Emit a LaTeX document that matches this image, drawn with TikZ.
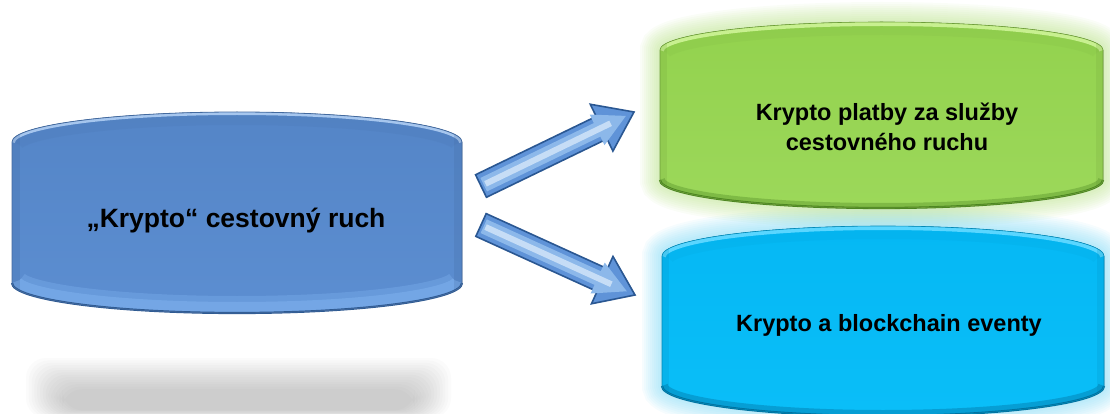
\documentclass[tikz,border=0pt]{standalone}
\usepackage{fontspec}
\setmainfont{Liberation Sans}
\usetikzlibrary{calc}
\definecolor{blueA}{HTML}{5485C7}
\definecolor{blueB}{HTML}{5C8ED1}
\definecolor{blueLight}{HTML}{80B3F0}
\definecolor{blueRim}{HTML}{A6C6EE}
\definecolor{blueDark}{HTML}{2C5890}
\definecolor{greenA}{HTML}{93D24E}
\definecolor{greenB}{HTML}{9CD85A}
\definecolor{greenRim}{HTML}{C8F090}
\definecolor{greenDark}{HTML}{4A8420}
\definecolor{greenGlow}{HTML}{A2D862}
\definecolor{cyanA}{HTML}{05B8F4}
\definecolor{cyanB}{HTML}{0ABEF8}
\definecolor{cyanRim}{HTML}{5AD6FF}
\definecolor{cyanDark}{HTML}{00709E}
\definecolor{cyanGlow}{HTML}{55CCF2}
\definecolor{arrFill}{HTML}{5F93D8}
\definecolor{arrMid}{HTML}{8CB8EA}
\definecolor{arrHi}{HTML}{C6DDF6}
\definecolor{arrDark}{HTML}{2A5792}
% drum-shaped path: left, right, top corner y, bottom corner y, y radius
\def\drum#1#2#3#4#5{(#1,#3) .. controls (#1,{#3-0.5523*#5}) and ({(#1+#2)/2-0.5523*(#2-#1)/2},{#3-#5}) .. ({(#1+#2)/2},{#3-#5}) .. controls ({(#1+#2)/2+0.5523*(#2-#1)/2},{#3-#5}) and (#2,{#3-0.5523*#5}) .. (#2,#3) -- (#2,#4) .. controls (#2,{#4+0.5523*#5}) and ({(#1+#2)/2+0.5523*(#2-#1)/2},{#4+#5}) .. ({(#1+#2)/2},{#4+#5}) .. controls ({(#1+#2)/2-0.5523*(#2-#1)/2},{#4+#5}) and (#1,{#4+0.5523*#5}) .. (#1,#4) -- cycle}
\def\toparc#1#2#3#4{(#1,#3) .. controls (#1,{#3-0.5523*#4}) and ({(#1+#2)/2-0.5523*(#2-#1)/2},{#3-#4}) .. ({(#1+#2)/2},{#3-#4}) .. controls ({(#1+#2)/2+0.5523*(#2-#1)/2},{#3-#4}) and (#2,{#3-0.5523*#4}) .. (#2,#3)}
\def\botarc#1#2#3#4{(#1,#3) .. controls (#1,{#3+0.5523*#4}) and ({(#1+#2)/2-0.5523*(#2-#1)/2},{#3+#4}) .. ({(#1+#2)/2},{#3+#4}) .. controls ({(#1+#2)/2+0.5523*(#2-#1)/2},{#3+#4}) and (#2,{#3+0.5523*#4}) .. (#2,#3)}
\def\blockarrow#1#2{%
  \coordinate (#1b) at ($(#2)!36pt!(#1)$);
  \filldraw[arrowbody] ($(#1)!12.5pt!90:(#2)$) -- ($(#1b)!12.5pt!-90:(#1)$) -- ($(#1b)!26pt!-90:(#1)$) -- (#2) -- ($(#1b)!26pt!90:(#1)$) -- ($(#1b)!12.5pt!90:(#1)$) -- ($(#1)!12.5pt!-90:(#2)$) -- cycle;
  \coordinate (#1m) at ($(#1b)!5pt!(#1)$);
  \fill[arrMid] ($(#1m)!17pt!-90:(#1)$) -- ($(#1m)!17pt!90:(#1)$) -- ($(#2)!9pt!(#1)$) -- cycle;
  \draw[arrMid, line width=15pt] ($(#1)!3pt!(#2)$) -- ($(#1b)!1pt!(#1)$);
  \draw[arrHi, line width=6pt] ($(#1)!5pt!(#2)$) -- ($(#1b)!-10pt!(#1)$);
}
\tikzset{
  arrowbody/.style={fill=arrFill, draw=arrDark, line width=1.6pt, line join=miter},
  lbl/.style={align=center, text=black, inner sep=0pt},
}
\begin{document}
\begin{tikzpicture}[x=1pt, y=-1pt]
\useasboundingbox (0,0) rectangle (1110,414);
% ---------- glows of the right shapes
\foreach \w in {40,36,...,4} {
  \draw[greenGlow, line width=\w pt, opacity=0.05] \drum{660}{1103}{50}{180}{28};
  \draw[cyanGlow, line width=\w pt, opacity=0.05] \drum{662}{1104}{256}{386}{30};
}
% ---------- shadow of the left shape
\foreach \i in {0,...,13} {
  \fill[black, opacity=0.014, rounded corners=20pt]
    ({26+2.8*\i},{358+2.4*\i}) rectangle ({451-2.8*\i},{418-0.6*\i});
}
% ---------- left shape
\fill[top color=blueA, bottom color=blueB] \drum{12}{462}{142}{283}{30};
\begin{scope}
  \clip \drum{12}{462}{142}{283}{30};
  \draw[blueLight, line width=34pt, opacity=0.35] \botarc{12}{462}{283}{30};
  \draw[blueLight, line width=22pt, opacity=0.5] \botarc{12}{462}{283}{30};
  \draw[blueA!85!black, line width=26pt, opacity=0.15] \toparc{12}{462}{142}{30};
  \draw[blueRim, line width=6pt] \toparc{12}{462}{142}{30};
  \draw[blueA!80!black, line width=16pt, opacity=0.22] (12,100) -- (12,330) (462,100) -- (462,330);
\end{scope}
\draw[blueDark, line width=2.2pt] \botarc{12}{462}{283}{30};
\draw[blueA!80!black, line width=0.8pt] \drum{12}{462}{142}{283}{30};
% ---------- green shape
\fill[top color=greenA, bottom color=greenB] \drum{660}{1103}{50}{180}{28};
\begin{scope}
  \clip \drum{660}{1103}{50}{180}{28};
  \draw[greenA!85!black, line width=26pt, opacity=0.15] \toparc{660}{1103}{50}{28};
  \draw[greenRim, line width=8pt] \toparc{660}{1103}{50}{28};
  \draw[greenA!80!black, line width=14pt, opacity=0.22] (660,0) -- (660,230) (1103,0) -- (1103,230);
  \draw[greenDark, line width=10pt, opacity=0.35] \botarc{660}{1103}{180}{28};
\end{scope}
\draw[greenDark, line width=2.2pt] \botarc{660}{1103}{180}{28};
\draw[greenA!75!black, line width=0.6pt] \drum{660}{1103}{50}{180}{28};
% ---------- cyan shape
\fill[top color=cyanA, bottom color=cyanB] \drum{662}{1104}{256}{386}{30};
\begin{scope}
  \clip \drum{662}{1104}{256}{386}{30};
  \draw[cyanA!85!black, line width=26pt, opacity=0.12] \toparc{662}{1104}{256}{30};
  \draw[cyanRim, line width=8pt] \toparc{662}{1104}{256}{30};
  \draw[cyanA!80!black, line width=14pt, opacity=0.22] (662,200) -- (662,430) (1104,200) -- (1104,430);
  \draw[cyanDark, line width=12pt, opacity=0.4] \botarc{662}{1104}{386}{30};
\end{scope}
\draw[cyanDark, line width=2.2pt] \botarc{662}{1104}{386}{30};
\draw[cyanA!75!black, line width=0.6pt] \drum{662}{1104}{256}{386}{30};
% ---------- arrows
\coordinate (uT) at (481,186);
\coordinate (uH) at (634,112);
\coordinate (lT) at (481,225);
\coordinate (lH) at (635,295);
\blockarrow{uT}{uH}
\blockarrow{lT}{lH}
% ---------- labels
\node[lbl, font=\bfseries\fontsize{26.5}{31}\selectfont] (src) at (236,221) {„Krypto“ cestovný ruch};
\node[lbl, font=\bfseries\fontsize{23.5}{30}\selectfont] (pay) at (887,127) {Krypto platby za služby\\cestovného ruchu};
\node[lbl, font=\bfseries\fontsize{23.5}{30}\selectfont] (evt) at (889,325) {Krypto a blockchain eventy};
\end{tikzpicture}
\end{document}
